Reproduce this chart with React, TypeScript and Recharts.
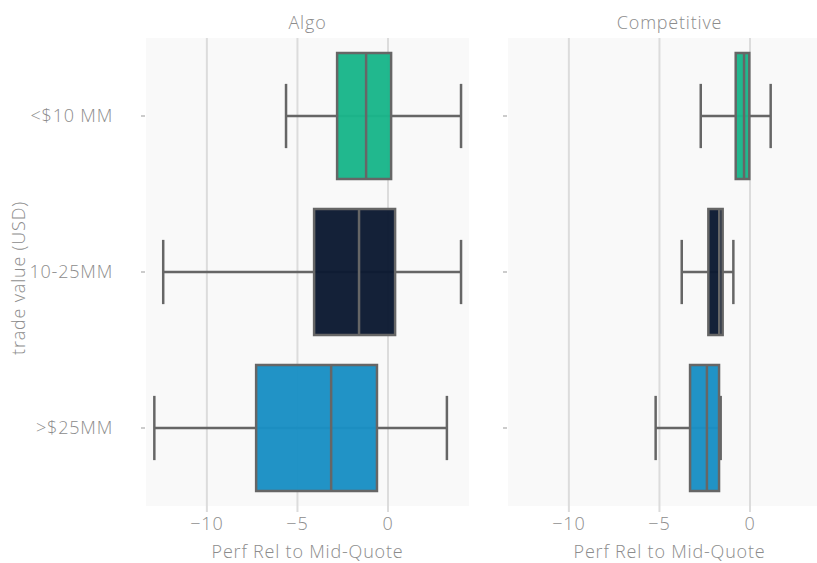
import { BarChart, Bar, XAxis, YAxis, CartesianGrid, Cell } from 'recharts'

const categories = ['<$10 MM', '10-25MM', '>$25MM']
const boxColors = ['#1ab68a', '#0c1a32', '#1a8fc4']
const xTicks = [-10, -5, 0]

// Algo panel: whisker low, Q1, median, Q3, whisker high
const algoLow = [-5.63, -12.41, -12.9]
const algoQ1 = [-2.81, -4.08, -7.28]
const algoMedian = [-1.21, -1.6, -3.14]
const algoQ3 = [0.17, 0.39, -0.61]
const algoHigh = [4.03, 4.03, 3.25]

// Competitive panel
const compLow = [-2.72, -3.77, -5.21]
const compQ1 = [-0.79, -2.3, -3.31]
const compMedian = [-0.33, -1.7, -2.38]
const compQ3 = [-0.04, -1.51, -1.71]
const compHigh = [1.14, -0.92, -1.62]

const DOMAIN: [number, number] = [-13.36, 4.47]
const TEXT = '#8c8c8c'
const FONT = "'Open Sans', Lato, sans-serif"
const STROKE = '#666666'
const FS = 18
const LS = 0.8

const buildRows = (low: number[], q1: number[], med: number[], q3: number[], high: number[]) =>
  categories.map((cat, i) => ({
    cat,
    low: low[i],
    q1: q1[i],
    median: med[i],
    q3: q3[i],
    high: high[i],
    range: [low[i], high[i]],
  }))

const algoRows = buildRows(algoLow, algoQ1, algoMedian, algoQ3, algoHigh)
const compRows = buildRows(compLow, compQ1, compMedian, compQ3, compHigh)

// whiskers + box + median, placed from the bar's scaled [low, high] extent
function BoxShape(props: any) {
  const { x, y, width, height, payload, fill } = props
  const { low, q1, median, q3, high } = payload
  const left = Math.min(x, x + width)
  const w = Math.abs(width)
  const k = w / (high - low)
  const px = (v: number) => left + (v - low) * k
  const cy = y + height / 2
  const capTop = cy - height * 0.255
  const capBot = cy + height * 0.255
  return (
    <g>
      <line x1={px(low)} x2={px(high)} y1={cy} y2={cy} stroke={STROKE} strokeWidth={2.5} />
      <line x1={px(low)} x2={px(low)} y1={capTop} y2={capBot} stroke={STROKE} strokeWidth={2.5} />
      <line x1={px(high)} x2={px(high)} y1={capTop} y2={capBot} stroke={STROKE} strokeWidth={2.5} />
      <rect
        x={px(q1)}
        y={y}
        width={px(q3) - px(q1)}
        height={height}
        fill={fill}
        fillOpacity={0.97}
        stroke={STROKE}
        strokeWidth={2.5}
      />
      <line x1={px(median)} x2={px(median)} y1={y} y2={y + height} stroke={STROKE} strokeWidth={2.5} />
    </g>
  )
}

function YTick(props: any) {
  const { x, y, payload, showLabel } = props
  return (
    <g>
      <line x1={x - 5} x2={x - 1} y1={y} y2={y} stroke="#cccccc" strokeWidth={2} />
      {showLabel && (
        <text
          x={x - 33}
          y={y}
          dy={6}
          textAnchor="end"
          fill={TEXT}
          stroke="none"
          fontSize={FS}
          fontFamily={FONT}
          fontWeight={300}
          letterSpacing={LS}
        >
          {payload.value}
        </text>
      )}
    </g>
  )
}

function Panel({ rows, width, yWidth, showLabels }: { rows: any[]; width: number; yWidth: number; showLabels: boolean }) {
  return (
    <BarChart
      width={width}
      height={563}
      data={rows}
      layout="vertical"
      margin={{ top: 38, right: 11, bottom: 0, left: 0 }}
      barSize={126}
    >
      <CartesianGrid
        horizontal={false}
        verticalValues={xTicks}
        fill="#f9f9f9"
        stroke="#dcdcdc"
        strokeWidth={2}
      />
      <XAxis
        type="number"
        domain={DOMAIN}
        ticks={xTicks}
        allowDataOverflow
        height={57}
        axisLine={false}
        tickLine={{ stroke: '#dcdcdc', strokeWidth: 2 }}
        tickSize={6}
        tickMargin={5}
        tick={{ fill: TEXT, stroke: 'none', fontSize: FS, fontFamily: FONT, fontWeight: 300, letterSpacing: LS }}
        tickFormatter={(v: number) => (v < 0 ? `\u2212${Math.abs(v)}` : `${v}`)}
      />
      <YAxis
        type="category"
        dataKey="cat"
        width={yWidth}
        axisLine={false}
        tickLine={false}
        tickSize={0}
        tickMargin={0}
        tick={<YTick showLabel={showLabels} />}
      />
      <Bar dataKey="range" shape={<BoxShape />} isAnimationActive={false}>
        {rows.map((_, i) => (
          <Cell key={i} fill={boxColors[i]} />
        ))}
      </Bar>
    </BarChart>
  )
}

const titleStyle = {
  position: 'absolute' as const,
  width: 323,
  height: 18,
  textAlign: 'center' as const,
  color: TEXT,
  fontSize: FS,
  fontWeight: 300,
  letterSpacing: LS,
  lineHeight: '18px',
  whiteSpace: 'nowrap' as const,
}

export default function App() {
  return (
    <div
      style={{
        position: 'fixed',
        left: 0,
        top: 0,
        width: 817,
        height: 563,
        overflow: 'hidden',
        background: '#ffffff',
        fontFamily: FONT,
      }}
    >
      <div
        style={{
          position: 'absolute',
          left: 18 - 100,
          top: 278 - 10,
          width: 200,
          height: 20,
          lineHeight: '20px',
          transform: 'rotate(-90deg)',
          textAlign: 'center',
          whiteSpace: 'nowrap',
          color: TEXT,
          fontSize: FS,
          fontWeight: 300,
          letterSpacing: LS,
        }}
      >
        trade value (USD)
      </div>
      <div style={{ ...titleStyle, left: 146, top: 13 }}>Algo</div>
      <div style={{ ...titleStyle, left: 508, top: 13 }}>Competitive</div>
      <div style={{ ...titleStyle, left: 146, top: 542 }}>Perf Rel to Mid-Quote</div>
      <div style={{ ...titleStyle, left: 508, top: 542 }}>Perf Rel to Mid-Quote</div>
      <div style={{ position: 'absolute', left: 0, top: 0 }}>
        <Panel rows={algoRows} width={480} yWidth={146} showLabels />
      </div>
      <div style={{ position: 'absolute', left: 480, top: 0 }}>
        <Panel rows={compRows} width={362} yWidth={28} showLabels={false} />
      </div>
    </div>
  )
}
